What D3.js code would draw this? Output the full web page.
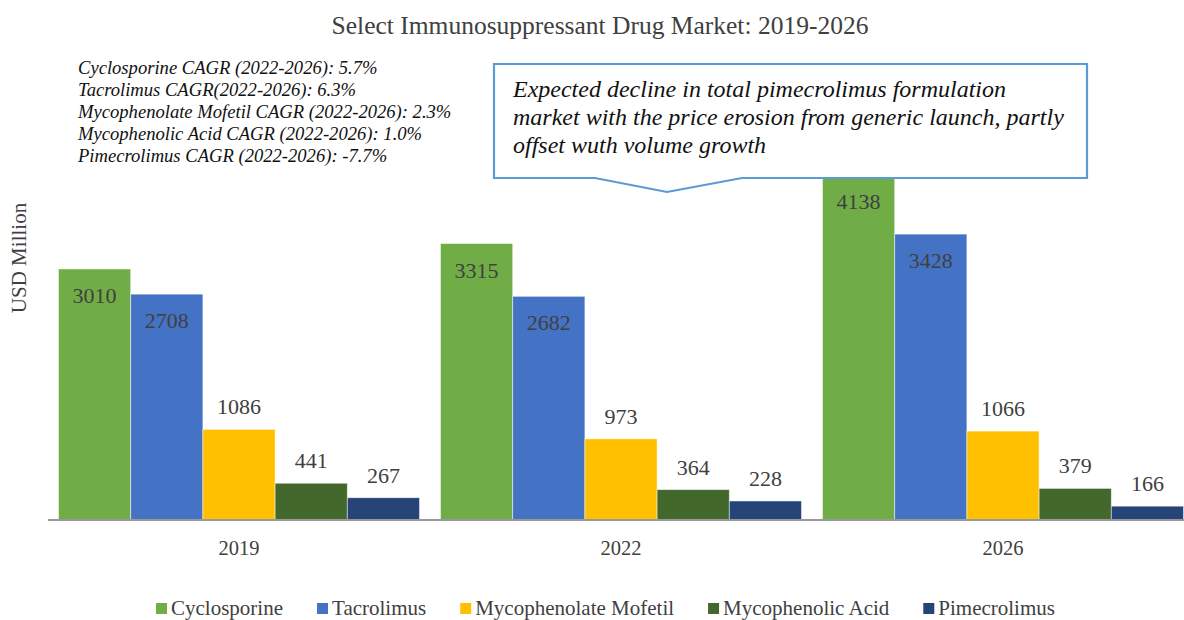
<!DOCTYPE html>
<html>
<head>
<meta charset="utf-8">
<script src="https://cdn.jsdelivr.net/npm/d3@7/dist/d3.min.js"></script>
<style>
  html, body { margin: 0; padding: 0; background: #fff; }
  svg text { font-family: 'Liberation Serif', 'Times New Roman', Times, serif !important; }
</style>
</head>
<body>
<svg id="chart" width="1184" height="620"></svg>
<script>
// Market size by year (USD million)
const years = ["2019", "2022", "2026"];
const drugs = ["Cyclosporine", "Tacrolimus", "Mycophenolate Mofetil", "Mycophenolic Acid", "Pimecrolimus"];
const cyclosporine = [3010, 3315, 4138];
const tacrolimus = [2708, 2682, 3428];
const mycophenolateMofetil = [1086, 973, 1066];
const mycophenolicAcid = [441, 364, 379];
const pimecrolimus = [267, 228, 166];
const drugColors = ["#70AD47", "#4472C4", "#FFC000", "#43682B", "#264478"];

const cagrNotes = [
  "Cyclosporine CAGR (2022-2026): 5.7%",
  "Tacrolimus CAGR(2022-2026): 6.3%",
  "Mycophenolate Mofetil CAGR (2022-2026): 2.3%",
  "Mycophenolic Acid CAGR (2022-2026): 1.0%",
  "Pimecrolimus CAGR (2022-2026): -7.7%"
];
const calloutLines = [
  "Expected decline in total pimecrolimus formulation",
  "market with the price erosion from generic launch, partly",
  "offset wuth volume growth"
];

const seriesValues = [cyclosporine, tacrolimus, mycophenolateMofetil, mycophenolicAcid, pimecrolimus];
const rows = [];
years.forEach((yr, i) => {
  drugs.forEach((d, j) => rows.push({ year: yr, drug: d, idx: j, value: seriesValues[j][i] }));
});

const SERIF = "'Liberation Serif', 'Times New Roman', Times, serif";
const svg = d3.select("#chart");
const baseY = 520;

const x0 = d3.scaleBand().domain(years).range([48, 1194]).paddingInner(0.055).paddingOuter(0.0275);
const x1 = d3.scaleBand().domain(drugs).range([0, x0.bandwidth()]);
const y = d3.scaleLinear().domain([0, 5000]).range([baseY, baseY - 417]);

// Title
svg.append("text").attr("x", 600).attr("y", 34).attr("text-anchor", "middle")
  .style("font-family", SERIF)
  .attr("font-size", 25.5).attr("fill", "#404040")
  .text("Select Immunosuppressant Drug Market: 2019-2026");

// Y axis title
svg.append("text").attr("transform", "translate(26,258) rotate(-90)")
  .style("font-family", SERIF)
  .attr("text-anchor", "middle").attr("font-size", 21).attr("fill", "#404040")
  .text("USD Million");

// Bars
const groups = svg.append("g").selectAll("g").data(years).join("g")
  .attr("transform", d => `translate(${x0(d)},0)`);

groups.selectAll("rect").data(yr => rows.filter(r => r.year === yr)).join("rect")
  .attr("x", d => x1(d.drug))
  .attr("y", d => y(d.value))
  .attr("width", x1.bandwidth())
  .attr("height", d => y(0) - y(d.value))
  .attr("fill", d => drugColors[d.idx])
  .attr("stroke", "#ffffff").attr("stroke-opacity", 0.6).attr("stroke-width", 0.8);

// Value labels: inside the top of the two tallest series, above the others
groups.selectAll("text.val").data(yr => rows.filter(r => r.year === yr)).join("text")
  .attr("class", "val")
  .style("font-family", SERIF)
  .attr("x", d => x1(d.drug) + x1.bandwidth() / 2)
  .attr("y", d => d.idx < 2 ? y(d.value) + 34 : y(d.value) - 15)
  .attr("text-anchor", "middle").attr("font-size", 22).attr("fill", "#404040")
  .text(d => d.value);

// Category axis
const xAxis = svg.append("g").attr("transform", `translate(0,${baseY})`)
  .call(d3.axisBottom(x0).tickSize(0).tickPadding(20));
xAxis.select(".domain").attr("stroke", "#999").attr("stroke-width", 2)
  .attr("d", "M48,0H1184");
xAxis.selectAll("text").style("font-family", SERIF)
  .attr("font-size", 20.5).attr("fill", "#404040").attr("dy", "0.71em");

// CAGR notes
const notes = svg.append("text").attr("x", 78).attr("y", 74)
  .style("font-family", SERIF)
  .attr("font-size", 18.6).attr("font-style", "italic").attr("fill", "#111");
notes.selectAll("tspan").data(cagrNotes).join("tspan")
  .attr("x", 78).attr("dy", (d, i) => i === 0 ? 0 : 22).text(d => d);

// Callout box with pointer
const bx0 = 494, bx1 = 1087, by0 = 64, by1 = 178;
const callout = d3.path();
callout.moveTo(bx0, by0);
callout.lineTo(bx1, by0);
callout.lineTo(bx1, by1);
callout.lineTo(742, by1);
callout.lineTo(667, 192);
callout.lineTo(595, by1);
callout.lineTo(bx0, by1);
callout.closePath();
svg.append("path").attr("d", callout.toString())
  .attr("fill", "#fff").attr("stroke", "#5B9BD5").attr("stroke-width", 2.2);

const ct = svg.append("text").attr("x", 513).attr("y", 97)
  .style("font-family", SERIF)
  .attr("font-size", 24).attr("font-style", "italic").attr("fill", "#111");
ct.selectAll("tspan").data(calloutLines).join("tspan")
  .attr("x", 513).attr("dy", (d, i) => i === 0 ? 0 : 28).text(d => d);

// Legend
const legend = svg.append("g");
const items = legend.selectAll("g").data(drugs).join("g");
items.append("rect").attr("width", 11).attr("height", 11).attr("y", -12)
  .attr("fill", (d, i) => drugColors[i]);
items.append("text").attr("x", 15).attr("y", 0).attr("font-size", 21)
  .style("font-family", SERIF)
  .attr("fill", "#404040").text(d => d);
let cursor = 0;
const pos = [];
const gap = 34;
items.each(function () {
  pos.push(cursor);
  const w = d3.select(this).select("text").node().getComputedTextLength();
  cursor += 15 + w + gap;
});
const totalW = cursor - gap;
const startX = 605.5 - totalW / 2;
items.attr("transform", (d, i) => `translate(${startX + pos[i]},615)`);
</script>
</body>
</html>
